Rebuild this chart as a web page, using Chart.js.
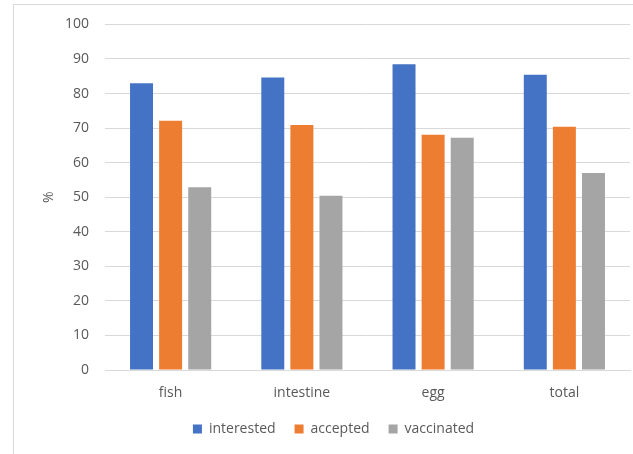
<!DOCTYPE html>
<html>
<head>
<meta charset="utf-8">
<script src="https://cdn.jsdelivr.net/npm/chart.js@4"></script>
<style>
  html, body { margin: 0; padding: 0; background: #ffffff; }
  #frame {
    position: absolute; left: 13px; top: 4px; width: 660px; height: 480px;
    border: 1px solid #d9d9d9; box-sizing: border-box;
  }
  #wrap { position: absolute; left: 0; top: 0; width: 633px; height: 454px; overflow: hidden; }
  canvas { position: absolute; left: 0; top: 0; }
</style>
</head>
<body>
<div id="wrap">
  <div id="frame"></div>
  <canvas id="chart" width="633" height="454"></canvas>
</div>
<script>
// Survey groups and the share (%) of respondents in each status
const categories = ['fish', 'intestine', 'egg', 'total'];
const interested = [83.0, 84.6, 88.5, 85.4];
const accepted   = [72.1, 70.9, 68.1, 70.4];
const vaccinated = [52.9, 50.4, 67.2, 57.0];
const seriesNames = ['interested', 'accepted', 'vaccinated'];
const yTicks = [0, 10, 20, 30, 40, 50, 60, 70, 80, 90, 100];

const textColor = '#595959';
const gridColor = '#d9d9d9';
const fontFamily = '"Open Sans", "Liberation Sans", sans-serif';

Chart.defaults.font.family = fontFamily;
Chart.defaults.font.size = 14;
Chart.defaults.color = textColor;

const palette = ['#4472C4', '#ED7D31', '#A5A5A5'];
const values = [interested, accepted, vaccinated];

new Chart(document.getElementById('chart'), {
  type: 'bar',
  data: {
    labels: categories,
    datasets: seriesNames.map((name, i) => ({
      label: name,
      data: values[i],
      backgroundColor: palette[i],
      borderWidth: 0,
      barPercentage: 0.79,
      categoryPercentage: 0.665
    }))
  },
  options: {
    responsive: false,
    animation: false,
    layout: { padding: { left: 37, right: 3, top: 24, bottom: 8 } },
    plugins: {
      legend: {
        position: 'bottom',
        labels: {
          boxWidth: 9,
          boxHeight: 9,
          padding: 19,
          color: textColor,
          font: { size: 14 }
        }
      },
      tooltip: { enabled: false }
    },
    scales: {
      x: {
        grid: { display: false, drawTicks: false },
        border: { display: true, color: gridColor, width: 1 },
        ticks: { padding: 15, color: textColor, font: { size: 14 } },
        afterFit: (scale) => { scale.height = 33; }
      },
      y: {
        min: 0,
        max: 100,
        afterBuildTicks: (scale) => { scale.ticks = yTicks.map(v => ({ value: v })); },
        grid: { color: gridColor, lineWidth: 1, drawTicks: false },
        border: { display: false },
        ticks: { padding: 16, color: textColor, font: { size: 14 } },
        title: {
          display: true,
          text: '%',
          color: textColor,
          font: { size: 14 },
          padding: { top: 4, bottom: 4 }
        },
        afterFit: (scale) => { scale.width = 68; }
      }
    }
  }
});
</script>
</body>
</html>
